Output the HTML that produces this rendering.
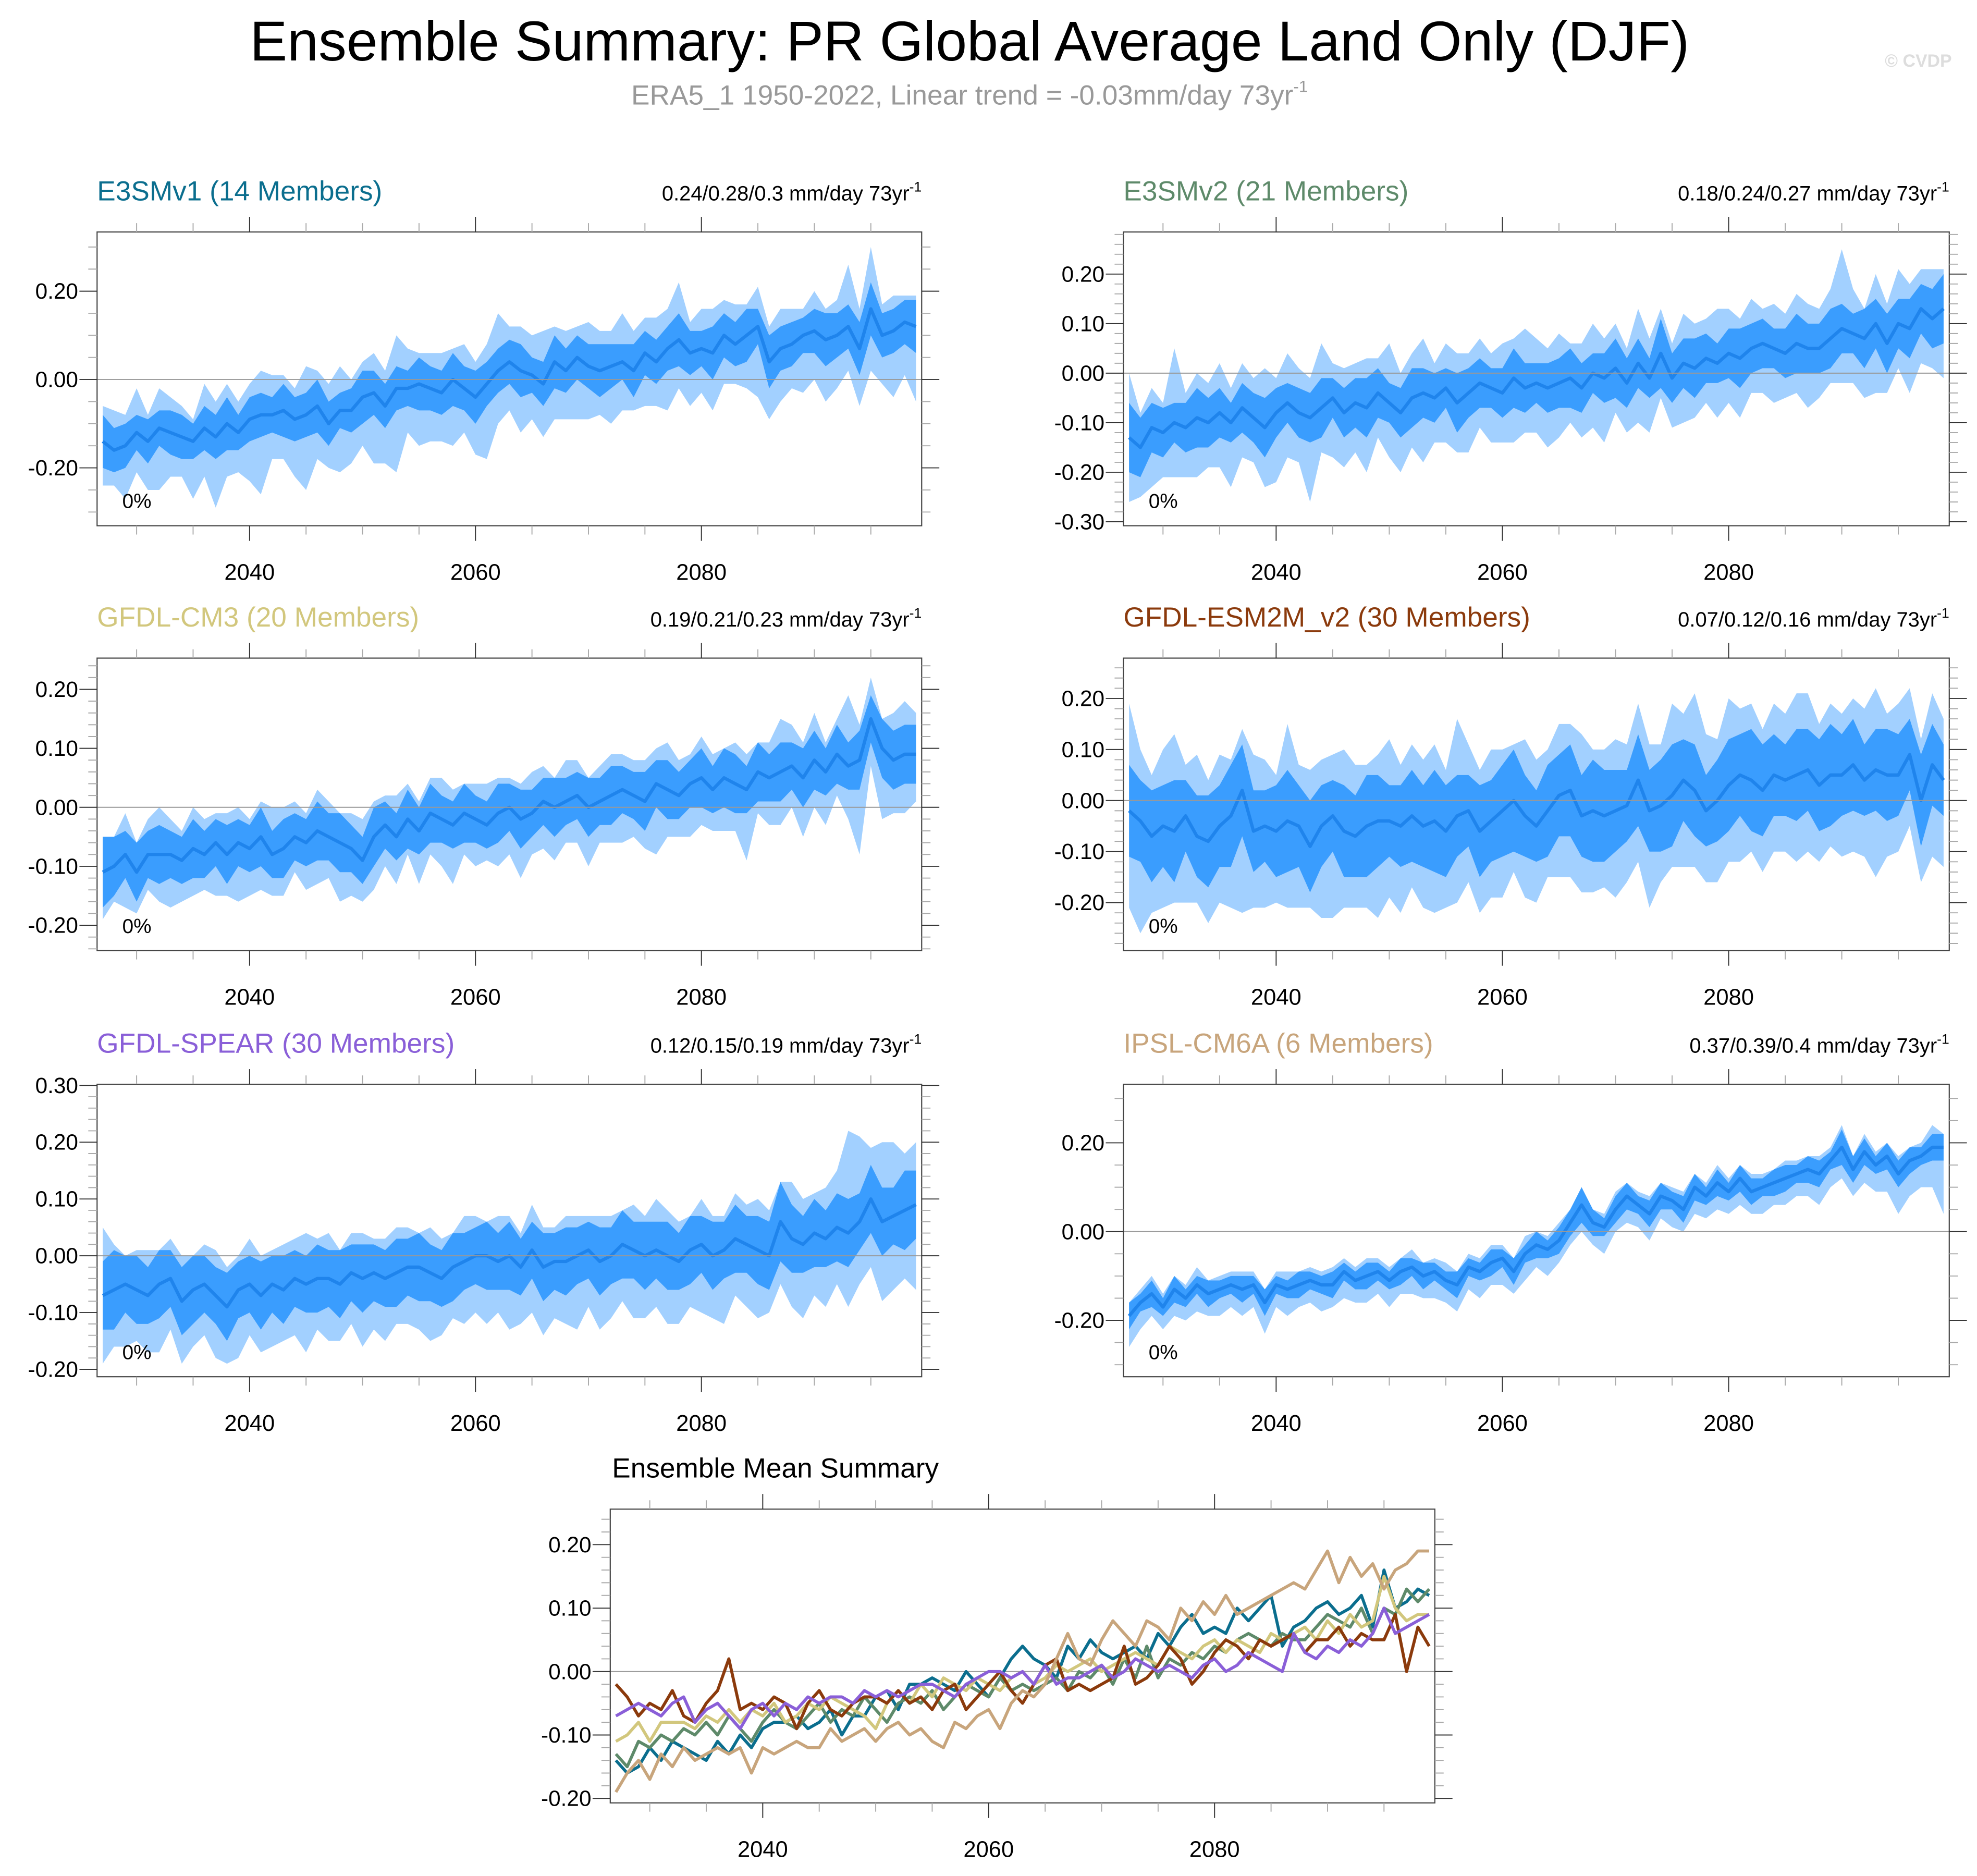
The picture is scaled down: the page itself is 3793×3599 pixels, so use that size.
<!DOCTYPE html>
<html><head><meta charset="utf-8"><style>
html,body{margin:0;padding:0;background:#fff;}
svg{display:block;font-family:"Liberation Sans",sans-serif;}
</style></head><body>
<svg id="chart" xmlns="http://www.w3.org/2000/svg" width="3793" height="3599" viewBox="0 0 1568 1488" preserveAspectRatio="none">
<rect x="0" y="0" width="1568" height="1488" fill="#fff"/>
<text x="769" y="48" font-size="44.5" text-anchor="middle" fill="#000">Ensemble Summary: PR Global Average Land Only (DJF)</text>
<text x="769" y="83" font-size="22" text-anchor="middle" fill="#999">ERA5_1 1950-2022, Linear trend = -0.03mm/day 73yr<tspan font-size="13" dy="-10">-1</tspan></text>
<text x="1548" y="53" font-size="14" font-weight="bold" text-anchor="end" fill="#ddd">© CVDP</text>
<g id="plots"></g>
</svg>
<script>
const years = Array.from({length:73},(_, i)=>2027+i);
const xTickLabels = ["2040","2060","2080"];

const e3v1Mean=[-0.14,-0.16,-0.15,-0.12,-0.14,-0.11,-0.12,-0.13,-0.14,-0.11,-0.13,-0.10,-0.12,-0.09,-0.08,-0.08,-0.07,-0.09,-0.08,-0.06,-0.10,-0.07,-0.07,-0.04,-0.03,-0.06,-0.02,-0.02,-0.01,-0.02,-0.03,0.00,-0.02,-0.04,-0.01,0.02,0.04,0.02,0.01,-0.01,0.04,0.02,0.05,0.03,0.02,0.03,0.04,0.02,0.06,0.04,0.07,0.09,0.06,0.07,0.06,0.10,0.08,0.10,0.12,0.04,0.07,0.08,0.10,0.11,0.09,0.10,0.12,0.07,0.16,0.10,0.11,0.13,0.12];
const e3v1Inner=[0.06,0.05,0.05,0.04,0.05,0.04,0.05,0.05,0.04,0.05,0.05,0.06,0.04,0.05,0.05,0.04,0.06,0.05,0.05,0.06,0.05,0.04,0.05,0.06,0.05,0.05,0.05,0.04,0.06,0.05,0.05,0.06,0.05,0.06,0.05,0.05,0.05,0.06,0.04,0.05,0.06,0.05,0.05,0.05,0.06,0.05,0.04,0.06,0.05,0.05,0.05,0.06,0.05,0.04,0.06,0.05,0.05,0.06,0.04,0.06,0.05,0.05,0.04,0.05,0.06,0.05,0.05,0.06,0.06,0.05,0.05,0.05,0.06];
const e3v1Up=[0.08,0.09,0.07,0.10,0.06,0.09,0.08,0.07,0.05,0.10,0.08,0.09,0.07,0.08,0.10,0.09,0.08,0.07,0.11,0.08,0.09,0.10,0.07,0.08,0.09,0.08,0.12,0.09,0.07,0.08,0.09,0.07,0.10,0.08,0.09,0.13,0.08,0.10,0.09,0.12,0.08,0.09,0.07,0.10,0.09,0.08,0.11,0.09,0.08,0.10,0.09,0.13,0.07,0.09,0.10,0.08,0.09,0.07,0.09,0.08,0.09,0.08,0.06,0.09,0.07,0.08,0.14,0.09,0.14,0.07,0.08,0.06,0.07];
const e3v1Dn=[0.10,0.08,0.12,0.09,0.11,0.14,0.10,0.09,0.13,0.11,0.16,0.12,0.09,0.14,0.18,0.10,0.11,0.13,0.17,0.12,0.10,0.14,0.12,0.11,0.16,0.13,0.19,0.10,0.14,0.12,0.11,0.15,0.10,0.13,0.17,0.12,0.11,0.14,0.10,0.12,0.13,0.11,0.14,0.12,0.10,0.13,0.11,0.09,0.12,0.10,0.14,0.11,0.12,0.10,0.13,0.11,0.09,0.12,0.16,0.13,0.12,0.10,0.13,0.11,0.14,0.12,0.10,0.13,0.14,0.11,0.15,0.12,0.17];

const e3v2Mean=[-0.13,-0.15,-0.11,-0.12,-0.10,-0.11,-0.09,-0.10,-0.08,-0.10,-0.07,-0.09,-0.11,-0.08,-0.06,-0.08,-0.09,-0.07,-0.05,-0.08,-0.06,-0.07,-0.04,-0.06,-0.08,-0.05,-0.04,-0.05,-0.03,-0.06,-0.04,-0.02,-0.03,-0.04,-0.01,-0.03,-0.02,-0.03,-0.02,-0.01,-0.03,0.00,-0.01,0.01,-0.02,0.02,-0.01,0.04,-0.01,0.02,0.01,0.03,0.02,0.04,0.03,0.05,0.06,0.05,0.04,0.06,0.05,0.05,0.07,0.09,0.08,0.07,0.10,0.06,0.10,0.09,0.13,0.11,0.13];
const e3v2Inner=[0.07,0.06,0.05,0.05,0.04,0.05,0.06,0.05,0.05,0.04,0.05,0.05,0.06,0.05,0.04,0.05,0.05,0.06,0.04,0.05,0.05,0.06,0.05,0.04,0.05,0.06,0.05,0.05,0.04,0.06,0.05,0.05,0.04,0.05,0.06,0.05,0.04,0.05,0.05,0.06,0.05,0.04,0.05,0.06,0.05,0.05,0.04,0.07,0.05,0.05,0.06,0.05,0.04,0.05,0.06,0.05,0.05,0.04,0.05,0.06,0.05,0.05,0.06,0.05,0.04,0.06,0.05,0.06,0.05,0.06,0.05,0.06,0.07];
const e3v2Up=[0.13,0.07,0.08,0.06,0.15,0.07,0.09,0.08,0.10,0.07,0.09,0.08,0.12,0.07,0.10,0.09,0.08,0.13,0.07,0.09,0.08,0.10,0.07,0.12,0.08,0.09,0.11,0.07,0.09,0.10,0.08,0.09,0.07,0.10,0.08,0.12,0.09,0.08,0.10,0.07,0.09,0.10,0.08,0.09,0.07,0.11,0.08,0.09,0.07,0.10,0.09,0.08,0.11,0.09,0.08,0.10,0.07,0.09,0.08,0.10,0.09,0.08,0.10,0.16,0.09,0.06,0.10,0.08,0.11,0.09,0.08,0.10,0.08];
const e3v2Dn=[0.13,0.10,0.12,0.09,0.11,0.10,0.12,0.09,0.11,0.13,0.10,0.09,0.12,0.14,0.11,0.10,0.17,0.09,0.12,0.11,0.10,0.13,0.09,0.11,0.12,0.10,0.14,0.09,0.11,0.10,0.12,0.09,0.11,0.10,0.13,0.09,0.10,0.12,0.11,0.09,0.10,0.11,0.13,0.09,0.10,0.12,0.11,0.09,0.10,0.12,0.10,0.09,0.11,0.10,0.12,0.09,0.10,0.11,0.09,0.10,0.12,0.10,0.09,0.11,0.10,0.12,0.14,0.10,0.09,0.13,0.11,0.10,0.14];

const cm3Mean=[-0.11,-0.10,-0.08,-0.11,-0.08,-0.08,-0.08,-0.09,-0.07,-0.08,-0.06,-0.08,-0.06,-0.07,-0.05,-0.08,-0.07,-0.05,-0.06,-0.04,-0.05,-0.06,-0.07,-0.09,-0.05,-0.03,-0.05,-0.02,-0.04,-0.01,-0.02,-0.03,-0.01,-0.02,-0.03,-0.01,0.00,-0.02,-0.01,0.01,0.00,0.01,0.02,0.00,0.01,0.02,0.03,0.02,0.01,0.04,0.03,0.02,0.04,0.05,0.03,0.05,0.04,0.03,0.06,0.05,0.06,0.07,0.05,0.08,0.06,0.09,0.07,0.08,0.15,0.10,0.08,0.09,0.09];
const cm3Inner=[0.06,0.05,0.04,0.05,0.04,0.05,0.04,0.04,0.05,0.04,0.04,0.05,0.04,0.04,0.05,0.04,0.05,0.04,0.04,0.05,0.04,0.05,0.04,0.04,0.05,0.04,0.04,0.05,0.04,0.05,0.04,0.04,0.05,0.04,0.04,0.05,0.04,0.05,0.04,0.04,0.05,0.04,0.04,0.05,0.04,0.05,0.04,0.04,0.05,0.04,0.05,0.04,0.04,0.05,0.04,0.05,0.05,0.04,0.05,0.04,0.05,0.04,0.05,0.05,0.04,0.05,0.04,0.05,0.04,0.05,0.05,0.05,0.05];
const cm3Up=[0.06,0.05,0.07,0.05,0.06,0.08,0.06,0.05,0.07,0.06,0.05,0.07,0.06,0.05,0.06,0.08,0.07,0.06,0.05,0.07,0.06,0.05,0.06,0.07,0.06,0.05,0.07,0.06,0.05,0.06,0.07,0.06,0.05,0.06,0.07,0.06,0.05,0.06,0.07,0.06,0.05,0.07,0.06,0.05,0.06,0.07,0.06,0.06,0.07,0.06,0.08,0.06,0.05,0.07,0.06,0.05,0.07,0.06,0.05,0.06,0.09,0.07,0.06,0.08,0.05,0.06,0.12,0.06,0.07,0.05,0.08,0.09,0.07];
const cm3Dn=[0.08,0.06,0.09,0.07,0.06,0.08,0.09,0.07,0.08,0.06,0.09,0.07,0.10,0.08,0.09,0.07,0.08,0.06,0.08,0.09,0.07,0.10,0.08,0.07,0.09,0.07,0.08,0.06,0.09,0.07,0.08,0.10,0.07,0.08,0.06,0.09,0.08,0.10,0.07,0.08,0.09,0.07,0.08,0.10,0.07,0.08,0.09,0.07,0.08,0.12,0.08,0.07,0.09,0.08,0.07,0.09,0.08,0.12,0.07,0.08,0.09,0.07,0.10,0.08,0.09,0.07,0.09,0.16,0.08,0.12,0.09,0.10,0.08];

const esmMean=[-0.02,-0.04,-0.07,-0.05,-0.06,-0.03,-0.07,-0.08,-0.05,-0.03,0.02,-0.06,-0.05,-0.06,-0.04,-0.05,-0.09,-0.05,-0.03,-0.06,-0.07,-0.05,-0.04,-0.04,-0.05,-0.03,-0.05,-0.04,-0.06,-0.03,-0.02,-0.06,-0.04,-0.02,0.00,-0.03,-0.05,-0.02,0.01,0.02,-0.03,-0.02,-0.03,-0.02,-0.01,0.04,-0.02,-0.01,0.01,0.04,0.02,-0.02,0.00,0.03,0.05,0.04,0.02,0.05,0.04,0.05,0.06,0.03,0.05,0.05,0.07,0.04,0.06,0.05,0.05,0.09,0.00,0.07,0.04];
const esmInner=[0.09,0.08,0.09,0.08,0.10,0.07,0.08,0.09,0.08,0.10,0.09,0.08,0.07,0.09,0.10,0.08,0.09,0.08,0.07,0.09,0.08,0.10,0.09,0.07,0.08,0.09,0.08,0.10,0.09,0.08,0.07,0.09,0.08,0.09,0.10,0.08,0.07,0.09,0.08,0.09,0.08,0.10,0.09,0.08,0.07,0.09,0.08,0.09,0.10,0.08,0.09,0.07,0.08,0.09,0.08,0.10,0.09,0.08,0.07,0.09,0.08,0.09,0.10,0.08,0.09,0.07,0.08,0.09,0.08,0.07,0.09,0.08,0.07];
const esmUp=[0.21,0.14,0.12,0.15,0.19,0.10,0.16,0.12,0.14,0.11,0.12,0.15,0.13,0.11,0.19,0.12,0.15,0.13,0.12,0.16,0.14,0.12,0.13,0.16,0.12,0.14,0.13,0.15,0.12,0.19,0.13,0.12,0.14,0.12,0.11,0.15,0.13,0.12,0.14,0.13,0.16,0.12,0.13,0.14,0.12,0.15,0.13,0.12,0.18,0.13,0.19,0.15,0.12,0.17,0.13,0.15,0.12,0.14,0.13,0.16,0.15,0.12,0.14,0.12,0.13,0.14,0.16,0.12,0.14,0.13,0.12,0.14,0.12];
const esmDn=[0.19,0.22,0.15,0.16,0.14,0.17,0.13,0.16,0.15,0.18,0.24,0.15,0.16,0.14,0.17,0.16,0.12,0.18,0.20,0.15,0.14,0.16,0.19,0.15,0.17,0.14,0.16,0.18,0.15,0.17,0.14,0.16,0.15,0.17,0.14,0.16,0.15,0.13,0.16,0.17,0.15,0.16,0.14,0.17,0.15,0.16,0.19,0.15,0.14,0.17,0.15,0.14,0.16,0.15,0.17,0.14,0.16,0.15,0.14,0.17,0.16,0.15,0.14,0.16,0.17,0.15,0.21,0.16,0.15,0.14,0.16,0.18,0.17];

const spearMean=[-0.07,-0.06,-0.05,-0.06,-0.07,-0.05,-0.04,-0.08,-0.06,-0.05,-0.07,-0.09,-0.06,-0.05,-0.07,-0.05,-0.06,-0.04,-0.05,-0.04,-0.04,-0.05,-0.03,-0.04,-0.03,-0.04,-0.03,-0.02,-0.02,-0.03,-0.04,-0.02,-0.01,0.00,0.00,-0.01,0.00,-0.02,0.01,-0.02,-0.01,-0.01,0.00,0.01,-0.01,0.00,0.02,0.01,0.00,0.01,0.00,-0.01,0.01,0.02,0.00,0.01,0.03,0.02,0.01,0.00,0.06,0.03,0.02,0.04,0.03,0.05,0.04,0.06,0.10,0.06,0.07,0.08,0.09];
const spearInner=[0.06,0.07,0.05,0.06,0.05,0.06,0.05,0.06,0.06,0.05,0.05,0.06,0.05,0.05,0.06,0.05,0.06,0.05,0.05,0.06,0.05,0.06,0.05,0.06,0.05,0.05,0.06,0.05,0.06,0.05,0.05,0.06,0.05,0.05,0.06,0.05,0.06,0.05,0.05,0.06,0.05,0.06,0.05,0.05,0.06,0.05,0.06,0.05,0.06,0.05,0.06,0.05,0.06,0.05,0.06,0.05,0.06,0.05,0.06,0.06,0.07,0.06,0.05,0.06,0.05,0.06,0.06,0.05,0.06,0.06,0.05,0.07,0.06];
const spearUp=[0.12,0.08,0.05,0.07,0.08,0.06,0.07,0.08,0.06,0.07,0.08,0.07,0.06,0.08,0.07,0.06,0.08,0.07,0.09,0.07,0.08,0.06,0.07,0.08,0.06,0.07,0.08,0.07,0.06,0.08,0.07,0.06,0.08,0.07,0.06,0.08,0.07,0.06,0.08,0.07,0.06,0.08,0.07,0.06,0.08,0.07,0.06,0.08,0.07,0.09,0.08,0.07,0.06,0.08,0.07,0.06,0.08,0.07,0.09,0.08,0.07,0.10,0.08,0.07,0.09,0.10,0.18,0.15,0.09,0.14,0.13,0.10,0.11];
const spearDn=[0.12,0.10,0.11,0.09,0.10,0.12,0.09,0.11,0.10,0.09,0.11,0.10,0.12,0.09,0.10,0.11,0.09,0.10,0.12,0.09,0.11,0.10,0.09,0.12,0.10,0.11,0.09,0.10,0.11,0.12,0.10,0.09,0.11,0.10,0.12,0.09,0.13,0.10,0.11,0.12,0.10,0.11,0.13,0.10,0.12,0.11,0.10,0.12,0.11,0.10,0.12,0.11,0.10,0.12,0.11,0.13,0.10,0.11,0.12,0.10,0.11,0.12,0.13,0.11,0.12,0.10,0.13,0.11,0.12,0.14,0.13,0.12,0.15];

const ipslMean=[-0.19,-0.16,-0.14,-0.17,-0.13,-0.15,-0.12,-0.14,-0.13,-0.12,-0.13,-0.12,-0.16,-0.12,-0.13,-0.12,-0.11,-0.12,-0.12,-0.09,-0.11,-0.10,-0.09,-0.11,-0.09,-0.08,-0.10,-0.09,-0.11,-0.12,-0.08,-0.09,-0.07,-0.06,-0.09,-0.05,-0.03,-0.04,-0.02,0.02,0.06,0.02,0.01,0.05,0.08,0.06,0.04,0.08,0.07,0.05,0.10,0.08,0.11,0.09,0.12,0.09,0.10,0.11,0.12,0.13,0.14,0.13,0.16,0.19,0.14,0.18,0.15,0.17,0.13,0.16,0.17,0.19,0.19];
const ipslInner=[0.03,0.02,0.03,0.02,0.03,0.02,0.02,0.03,0.02,0.02,0.03,0.02,0.03,0.02,0.02,0.03,0.02,0.02,0.03,0.02,0.02,0.03,0.02,0.02,0.03,0.02,0.03,0.02,0.02,0.03,0.02,0.02,0.03,0.02,0.03,0.02,0.03,0.02,0.03,0.03,0.04,0.03,0.02,0.03,0.03,0.02,0.03,0.03,0.02,0.03,0.03,0.02,0.03,0.02,0.03,0.03,0.02,0.03,0.03,0.02,0.03,0.03,0.02,0.04,0.03,0.03,0.02,0.03,0.03,0.03,0.02,0.03,0.03];
const ipslUp=[0.03,0.03,0.04,0.03,0.03,0.03,0.04,0.03,0.03,0.03,0.04,0.03,0.03,0.03,0.04,0.03,0.03,0.03,0.04,0.03,0.03,0.04,0.03,0.03,0.03,0.04,0.03,0.03,0.04,0.03,0.03,0.03,0.04,0.03,0.03,0.04,0.03,0.03,0.04,0.03,0.04,0.03,0.03,0.04,0.03,0.03,0.04,0.03,0.03,0.04,0.03,0.03,0.04,0.03,0.03,0.04,0.03,0.03,0.04,0.03,0.03,0.04,0.03,0.05,0.03,0.04,0.03,0.03,0.04,0.03,0.03,0.05,0.03];
const ipslDn=[0.07,0.06,0.05,0.05,0.06,0.05,0.06,0.05,0.06,0.05,0.06,0.05,0.07,0.05,0.06,0.05,0.05,0.06,0.05,0.06,0.05,0.06,0.05,0.06,0.05,0.06,0.05,0.06,0.05,0.06,0.05,0.06,0.05,0.06,0.05,0.06,0.05,0.06,0.05,0.05,0.06,0.05,0.06,0.05,0.06,0.05,0.06,0.05,0.06,0.05,0.06,0.05,0.06,0.05,0.06,0.05,0.06,0.05,0.06,0.05,0.06,0.07,0.06,0.07,0.06,0.07,0.06,0.08,0.09,0.08,0.07,0.09,0.15];

const NS="http://www.w3.org/2000/svg";
const root=document.getElementById('plots');
function el(tag,attrs,parent){const e=document.createElementNS(NS,tag);for(const k in attrs)e.setAttribute(k,attrs[k]);(parent||root).appendChild(e);return e;}

const panels=[
 {id:'e3smv1',title:'E3SMv1 (14 Members)',color:'#0b6e8e',stats:'0.24/0.28/0.3 mm/day 73yr',x0:77,x1:731,y0:184,y1:417,vmin:-0.331,vmax:0.334,major:0.2,minor:0.05,mean:e3v1Mean,inner:e3v1Inner,up:e3v1Up,dn:e3v1Dn},
 {id:'e3smv2',title:'E3SMv2 (21 Members)',color:'#5e8a6a',stats:'0.18/0.24/0.27 mm/day 73yr',x0:891,x1:1546,y0:184,y1:417,vmin:-0.308,vmax:0.285,major:0.1,minor:0.02,mean:e3v2Mean,inner:e3v2Inner,up:e3v2Up,dn:e3v2Dn},
 {id:'gfdl-cm3',title:'GFDL-CM3 (20 Members)',color:'#d2c77d',stats:'0.19/0.21/0.23 mm/day 73yr',x0:77,x1:731,y0:522,y1:754,vmin:-0.243,vmax:0.253,major:0.1,minor:0.02,mean:cm3Mean,inner:cm3Inner,up:cm3Up,dn:cm3Dn},
 {id:'gfdl-esm2m',title:'GFDL-ESM2M_v2 (30 Members)',color:'#8b3a0c',stats:'0.07/0.12/0.16 mm/day 73yr',x0:891,x1:1546,y0:522,y1:754,vmin:-0.294,vmax:0.279,major:0.1,minor:0.02,mean:esmMean,inner:esmInner,up:esmUp,dn:esmDn},
 {id:'gfdl-spear',title:'GFDL-SPEAR (30 Members)',color:'#8a5fd8',stats:'0.12/0.15/0.19 mm/day 73yr',x0:77,x1:731,y0:860,y1:1092,vmin:-0.213,vmax:0.302,major:0.1,minor:0.02,mean:spearMean,inner:spearInner,up:spearUp,dn:spearDn},
 {id:'ipsl-cm6a',title:'IPSL-CM6A (6 Members)',color:'#c8a57c',stats:'0.37/0.39/0.4 mm/day 73yr',x0:891,x1:1546,y0:860,y1:1092,vmin:-0.327,vmax:0.332,major:0.2,minor:0.05,mean:ipslMean,inner:ipslInner,up:ipslUp,dn:ipslDn}
];

function axes(p,g){
 const xs=v=>p.x0+(v-2026.5)/(2099.5-2026.5)*(p.x1-p.x0);
 const ys=v=>p.y1-(v-p.vmin)/(p.vmax-p.vmin)*(p.y1-p.y0);
 return {xs,ys};
}
function frame(p,g,xs,ys){
 const zl=el('line',{x1:p.x0,x2:p.x1,y1:ys(0),y2:ys(0),stroke:'#999','stroke-width':0.8},g);
 
 
 const box=el('rect',{x:p.x0,y:p.y0,width:p.x1-p.x0,height:p.y1-p.y0,fill:'none',stroke:'#444','stroke-width':0.9},g);
 
 
 for(let yr=2030;yr<=2095;yr+=5){
  const maj=xTickLabels.includes(String(yr));const L=maj?12:7;const x=xs(yr);
  el('line',{x1:x,x2:x,y1:p.y0,y2:p.y0-L,stroke:maj?'#333':'#aaa','stroke-width':0.8},g);
  el('line',{x1:x,x2:x,y1:p.y1,y2:p.y1+L,stroke:maj?'#333':'#aaa','stroke-width':0.8},g);
 }
 xTickLabels.forEach(lbl=>{
  const t=el('text',{x:xs(+lbl),y:p.y1+43,'font-size':18,'text-anchor':'middle',fill:'#000'},g);
  t.textContent=lbl;
  
  
 });
 const nMin=Math.ceil(p.vmin/p.minor-1e-6),nMax=Math.floor(p.vmax/p.minor+1e-6);
 for(let k=nMin;k<=nMax;k++){
  const v=k*p.minor;const r=v/p.major;const maj=Math.abs(r-Math.round(r))<1e-6;const y=ys(v);const L=maj?14:7;
  el('line',{x1:p.x0,x2:p.x0-L,y1:y,y2:y,stroke:maj?'#333':'#aaa','stroke-width':0.8},g);
  el('line',{x1:p.x1,x2:p.x1+L,y1:y,y2:y,stroke:maj?'#333':'#aaa','stroke-width':0.8},g);
  if(maj){const t=el('text',{x:p.x0-15,y:y+6,'font-size':17.5,'text-anchor':'end',fill:'#000'},g);
   t.textContent=(Math.abs(v)<1e-9?0:v).toFixed(2);
   
   }
 }
}

panels.forEach(p=>{
 const g=el('g',{});
 
 
 const {xs,ys}=axes(p,g);
 const n=p.mean.length;
 let top='',bot='';
 for(let i=0;i<n;i++){top+=(i?'L':'M')+xs(years[i]).toFixed(2)+','+ys(p.mean[i]+p.up[i]).toFixed(2);}
 for(let i=n-1;i>=0;i--){bot+='L'+xs(years[i]).toFixed(2)+','+ys(p.mean[i]-p.dn[i]).toFixed(2);}
 const outer=el('path',{d:top+bot+'Z',fill:'#a2d0ff'},g);
 
 
 top='';bot='';
 for(let i=0;i<n;i++){top+=(i?'L':'M')+xs(years[i]).toFixed(2)+','+ys(p.mean[i]+p.inner[i]).toFixed(2);}
 for(let i=n-1;i>=0;i--){bot+='L'+xs(years[i]).toFixed(2)+','+ys(p.mean[i]-p.inner[i]).toFixed(2);}
 const inner=el('path',{d:top+bot+'Z',fill:'#3a9dfe'},g);
 
 
 let d='';for(let i=0;i<n;i++){d+=(i?'L':'M')+xs(years[i]).toFixed(2)+','+ys(p.mean[i]).toFixed(2);}
 const ml=el('path',{d:d,fill:'none',stroke:'#1f84ec','stroke-width':2.6,'stroke-linejoin':'round'},g);
 
 
 frame(p,g,xs,ys);
 const tt=el('text',{x:p.x0,y:p.y0-25,'font-size':22,fill:p.color},g);
 tt.textContent=p.title;
 
 
 const st=el('text',{x:p.x1,y:p.y0-25,'font-size':16.5,'text-anchor':'end',fill:'#000'},g);
 st.textContent=p.stats;
 const sup=el('tspan',{'font-size':11,dy:-7},st);sup.textContent='-1';
 
 
 const pc=el('text',{x:p.x0+20,y:p.y1-14,'font-size':16,fill:'#000'},g);
 pc.textContent='0%';
 
 
});

// bottom summary
const sp={id:'summary',x0:484,x1:1138,y0:1197,y1:1430,vmin:-0.207,vmax:0.256,major:0.1,minor:0.02};
const sg=el('g',{});


const sax=axes(sp,sg);
frame(sp,sg,sax.xs,sax.ys);
[0,1,2,3,4,5].forEach(k=>{
 const p=panels[k];let d='';
 for(let i=0;i<p.mean.length;i++){d+=(i?'L':'M')+sax.xs(years[i]).toFixed(2)+','+sax.ys(p.mean[i]).toFixed(2);}
 const l=el('path',{d:d,fill:'none',stroke:p.color,'stroke-width':2.4,'stroke-linejoin':'round'},sg);
 
 
});
const stt=el('text',{x:615,y:1172,'font-size':22,'text-anchor':'middle',fill:'#000'},sg);
stt.textContent='Ensemble Mean Summary';


</script>
</body></html>
